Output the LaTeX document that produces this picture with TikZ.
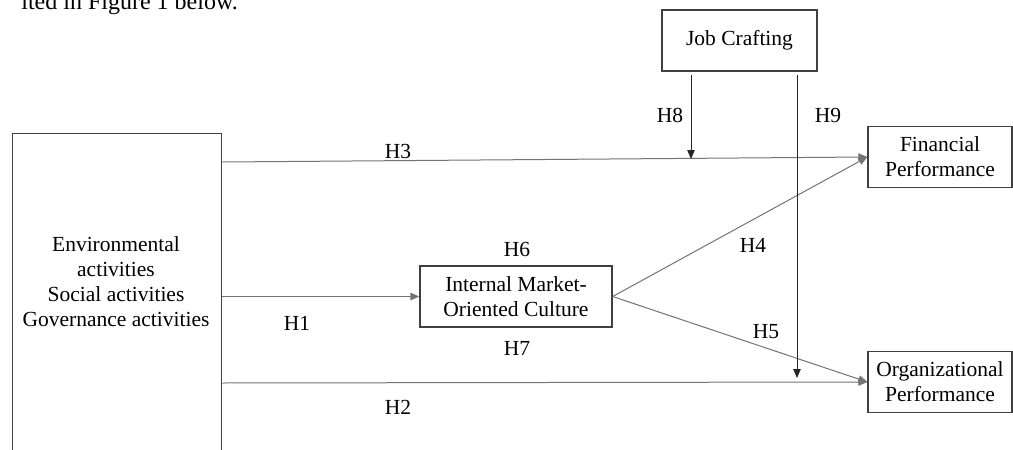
\documentclass[tikz,border=0pt]{standalone}
\usepackage{fontspec}
\setmainfont{Liberation Serif}
\usetikzlibrary{arrows.meta}
\tikzset{
  >={Triangle[length=9pt,width=7.5pt]},
  box/.style={draw=black!75, line width=1.3pt, inner sep=0pt, align=center},
  link/.style={->, draw=black!55, line width=1pt},
  modline/.style={->, draw=black!85, line width=0.9pt, shorten <=3pt}
}
\begin{document}
\begin{tikzpicture}[x=1pt,y=-1pt,font=\fontsize{21.5}{25}\selectfont]
\useasboundingbox (0,0) rectangle (1013,450);
\clip (0,0) rectangle (1013,450);
\node[anchor=base east, inner sep=0pt, font=\fontsize{24}{28}\selectfont] (cap) at (238,9) {ited in Figure 1 below.};
\node[box, minimum width=209pt, minimum height=340pt, anchor=north west] (esg) at (12,133) {};
\node[align=center, inner sep=0pt] (esgtxt) at (116,282) {Environmental\\activities\\Social activities\\Governance activities};
\node[box, minimum width=155pt, minimum height=61pt] (jc) at (739.5,40.5) {Job Crafting};
\node[box, minimum width=192pt, minimum height=61pt] (imoc) at (516,296.5) {Internal Market-\\Oriented Culture};
\node[box, minimum width=144pt, minimum height=61pt] (fin) at (940,157) {Financial\\Performance};
\node[box, minimum width=144pt, minimum height=61pt] (org) at (940,382) {Organizational\\Performance};
\coordinate (e3) at (esg.east |- 0,162);
\coordinate (e2) at (esg.east |- 0,383);
\draw[link] (e3) -- (fin.west);
\draw[link] (esg.east |- imoc.west) -- (imoc.west);
\draw[link] (e2) -- (org.west);
\draw[link] (imoc.east) -- (fin.west);
\draw[link] (imoc.east) -- (org.west);
\coordinate (h8end) at (691,159);
\coordinate (h9end) at (797,378);
\draw[modline] (jc.south -| h8end) -- (h8end);
\draw[modline] (jc.south -| h9end) -- (h9end);
\node (h1) at (297,323) {H1};
\node (h2) at (398,407) {H2};
\node (h3) at (398,151) {H3};
\node (h4) at (753,245) {H4};
\node (h5) at (766,332) {H5};
\node (h6) at (517,249) {H6};
\node (h7) at (517,348) {H7};
\node (h8) at (670,115) {H8};
\node (h9) at (828,115) {H9};
\end{tikzpicture}
\end{document}
